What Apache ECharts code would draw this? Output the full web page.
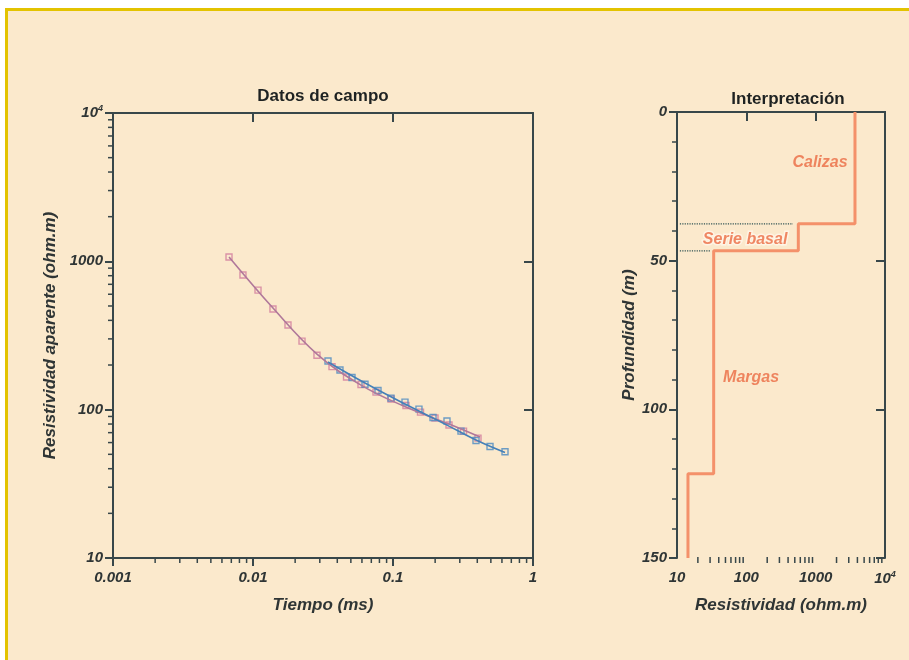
<!DOCTYPE html>
<html><head><meta charset="utf-8">
<script src="https://cdn.jsdelivr.net/npm/echarts@6/dist/echarts.min.js"></script>
<style>
html,body{margin:0;padding:0;background:#fff;width:909px;height:660px;overflow:hidden;}
#panel{position:absolute;left:5px;top:8px;width:920px;height:670px;background:#FBE9CC;border-top:3px solid #E3C300;border-left:3px solid #E3C300;}
#chart{position:absolute;left:0;top:0;width:909px;height:660px;}
</style></head><body>
<div id="panel"></div><div id="chart"></div>
<script>
// ---- Datos de campo ----
const pinkTime = [0.00674,0.00848,0.01086,0.01389,0.01778,0.02239,0.02864,0.03667,0.04655,0.05907,0.07561,0.09676,0.1238,0.1572,0.1995,0.2512,0.3189,0.4047];
const pinkRes  = [1069,808,640,477,372,290,233,195,166,147.7,131.4,117.9,106.6,96.3,87.8,78.8,71.7,64.3];
const blueTime = [0.03433,0.04181,0.05095,0.0631,0.07814,0.09676,0.1218,0.1533,0.1931,0.2430,0.3059,0.3916,0.4931,0.631];
const blueRes  = [212.7,184.9,164.6,148.2,134.5,119.7,112.5,100.9,88.5,83.8,71.7,61.9,56.4,52.0];
const pinkFitTime = [0.00674,0.01389,0.02864,0.05907,0.1238,0.2512,0.4182];
const pinkFitRes  = [1069,484,237,146.5,104.1,80.0,65.4];
const blueFitTime = [0.03433,0.0631,0.1218,0.2430,0.3916,0.631];
const blueFitRes  = [209.4,151.1,109.1,78.7,62.4,51.4];
const timeTickValues = [0.001,0.01,0.1,1];
const timeTickLabels = ['0.001','0.01','0.1','1'];
const resTickValues = [10,100,1000,10000];
const resTickLabels = ['10','100','1000','10{sup|4}'];

// ---- Interpretación ----
const layerNames = ['Calizas','Serie basal','Margas'];
const layerRes = [3690,562,33.8,14.4];
const layerTop = [0,37.6,46.7,121.7];
const maxDepth = 150;
const labelRes = [1156,96,117];
const labelDepth = [17.1,43,89.4];
const contactDepth = [37.6,46.7];
const contactFromRes = [11,11];
const contactToRes = [471,30];
const depthTicks = [0,50,100,150];

const FONT = '"Liberation Sans", Arial, sans-serif';
const AX = '#38474a';
const TXT = '#2f3535';
const ORANGE = '#F4916A';
const LABELC = '#EB6A42';

function pairs(a,b){return a.map((v,i)=>[v,b[i]]);}
function lookupLabel(vals,labels){
  return v=>{let best=0,bd=1e9;vals.forEach((t,i)=>{const d=Math.abs(Math.log10(v)-Math.log10(t));if(d<bd){bd=d;best=i;}});return labels[best];};
}
function minorLog(lo,hi){const out=[];for(let d=lo;d<hi*0.99;d*=10){for(let k=2;k<=9;k++)out.push(d*k);}return out;}

// step profile
const stepData=[];
layerRes.forEach((r,i)=>{
  const top=layerTop[i], bot=(i+1<layerTop.length)?layerTop[i+1]:maxDepth;
  stepData.push([r,top]); stepData.push([r,bot]);
});

const labelStyle = {fontFamily:FONT,fontSize:15,fontWeight:'bold',fontStyle:'italic',color:TXT};
const nameStyle = {fontFamily:FONT,fontSize:17,fontWeight:'bold',fontStyle:'italic',color:TXT};
const supRich = {sup:{fontFamily:FONT,fontSize:9,fontWeight:'bold',fontStyle:'italic',color:TXT,verticalAlign:'top',padding:[0,0,8,0]}};
const axLine = {show:true,lineStyle:{color:AX,width:2}};

function minorX(xi,yi,vals,yBase){
  return {type:'custom',xAxisIndex:xi,yAxisIndex:yi,silent:true,clip:false,z:5,
    data:vals.map(v=>[v,yBase]),
    renderItem:(p,api)=>{const c=api.coord([api.value(0),api.value(1)]);
      return {type:'line',shape:{x1:c[0],y1:c[1]-1,x2:c[0],y2:c[1]+5},style:{stroke:AX,lineWidth:1.5}};}};
}
function minorY(xi,yi,vals,xBase){
  return {type:'custom',xAxisIndex:xi,yAxisIndex:yi,silent:true,clip:false,z:5,
    data:vals.map(v=>[xBase,v]),
    renderItem:(p,api)=>{const c=api.coord([api.value(0),api.value(1)]);
      return {type:'line',shape:{x1:c[0]+1,y1:c[1],x2:c[0]-5,y2:c[1]},style:{stroke:AX,lineWidth:1.5}};}};
}

const chart = echarts.init(document.getElementById('chart'),null,{renderer:'canvas'});
chart.setOption({
  animation:false,
  backgroundColor:'transparent',
  title:[
    {text:'Datos de campo',left:318,top:83,textAlign:'center',textStyle:{fontFamily:FONT,fontSize:17,fontWeight:'bold',color:'#1e2222'}},
    {text:'Interpretación',left:783,top:86,textAlign:'center',textStyle:{fontFamily:FONT,fontSize:17,fontWeight:'bold',color:'#1e2222'}}
  ],
  grid:[
    {left:113,top:113,width:420,height:445},
    {left:677,top:112,width:208,height:446}
  ],
  xAxis:[
    {type:'log',gridIndex:0,position:'bottom',min:0.001,max:1,logBase:10,
     axisLine:axLine,axisTick:{show:true,length:8,lineStyle:{color:AX,width:2}},splitLine:{show:false},
     axisLabel:Object.assign({margin:12,formatter:lookupLabel(timeTickValues,timeTickLabels)},labelStyle),
     name:'Tiempo (ms)',nameLocation:'middle',nameGap:39,nameTextStyle:nameStyle},
    {type:'log',gridIndex:0,position:'top',min:0.001,max:1,logBase:10,
     axisLine:axLine,axisTick:{show:true,inside:true,length:9,lineStyle:{color:AX,width:2}},axisLabel:{show:false},splitLine:{show:false}},
    {type:'log',gridIndex:1,position:'bottom',min:10,max:10000,logBase:10,
     axisLine:axLine,axisTick:{show:true,length:8,lineStyle:{color:AX,width:2}},splitLine:{show:false},
     axisLabel:Object.assign({margin:12,formatter:lookupLabel(resTickValues,resTickLabels),rich:supRich},labelStyle),
     name:'Resistividad (ohm.m)',nameLocation:'middle',nameGap:39,nameTextStyle:nameStyle},
    {type:'log',gridIndex:1,position:'top',min:10,max:10000,logBase:10,
     axisLine:axLine,axisTick:{show:true,inside:true,length:9,lineStyle:{color:AX,width:2}},axisLabel:{show:false},splitLine:{show:false}}
  ],
  yAxis:[
    {type:'log',gridIndex:0,position:'left',min:10,max:10000,logBase:10,
     axisLine:axLine,axisTick:{show:true,length:8,lineStyle:{color:AX,width:2}},splitLine:{show:false},
     axisLabel:Object.assign({margin:10,formatter:lookupLabel(resTickValues,resTickLabels),rich:supRich},labelStyle),
     name:'Resistividad aparente (ohm.m)',nameLocation:'middle',nameGap:54,nameRotate:90,nameTextStyle:nameStyle},
    {type:'log',gridIndex:0,position:'right',min:10,max:10000,logBase:10,
     axisLine:axLine,axisTick:{show:true,inside:true,length:9,lineStyle:{color:AX,width:2}},axisLabel:{show:false},splitLine:{show:false}},
    {type:'value',gridIndex:1,position:'left',min:0,max:maxDepth,interval:50,inverse:true,
     axisLine:axLine,axisTick:{show:true,length:8,lineStyle:{color:AX,width:2}},
     minorTick:{show:true,splitNumber:5,length:5,lineStyle:{color:AX,width:1.5}},splitLine:{show:false},
     axisLabel:Object.assign({margin:10},labelStyle),
     name:'Profundidad (m)',nameLocation:'middle',nameGap:37,nameRotate:90,nameTextStyle:nameStyle},
    {type:'value',gridIndex:1,position:'right',min:0,max:maxDepth,interval:50,inverse:true,
     axisLine:axLine,axisTick:{show:true,inside:true,length:9,lineStyle:{color:AX,width:2}},axisLabel:{show:false},splitLine:{show:false}}
  ],
  series:[
    minorX(0,0,minorLog(0.001,1),10),
    minorY(0,0,minorLog(10,10000),0.001),
    minorX(2,2,minorLog(10,10000),maxDepth),
    {type:'line',xAxisIndex:0,yAxisIndex:0,data:pairs(pinkFitTime,pinkFitRes),smooth:0.4,showSymbol:false,
     lineStyle:{color:'#B0789A',width:1.6}},
    {type:'line',xAxisIndex:0,yAxisIndex:0,data:pairs(blueFitTime,blueFitRes),smooth:0.4,showSymbol:false,
     lineStyle:{color:'#4580B8',width:1.6}},
    {type:'scatter',xAxisIndex:0,yAxisIndex:0,data:pairs(pinkTime,pinkRes),symbol:'rect',symbolSize:6,
     itemStyle:{color:'rgba(0,0,0,0)',borderColor:'#D27C9C',borderWidth:1.4}},
    {type:'scatter',xAxisIndex:0,yAxisIndex:0,data:pairs(blueTime,blueRes),symbol:'rect',symbolSize:6,
     itemStyle:{color:'rgba(0,0,0,0)',borderColor:'#4A88C0',borderWidth:1.4}},
    {type:'line',xAxisIndex:2,yAxisIndex:2,data:stepData,showSymbol:false,
     lineStyle:{color:ORANGE,width:3}},
    ...contactDepth.map((d,i)=>({type:'line',xAxisIndex:2,yAxisIndex:2,showSymbol:false,
     data:[[contactFromRes[i],d],[contactToRes[i],d]],lineStyle:{color:'#2E5252',width:1.2,type:'dotted'}})),
    {type:'scatter',xAxisIndex:2,yAxisIndex:2,symbolSize:0,
     data:layerNames.map((n,i)=>({value:[labelRes[i],labelDepth[i]],name:n,
       label:i===1?{textBorderColor:'#FFF6EA',textBorderWidth:3}:{}})),
     label:{show:true,position:'inside',formatter:p=>p.name,fontFamily:FONT,fontSize:16,fontWeight:'bold',fontStyle:'italic',color:LABELC}}
  ]
});
</script>
</body></html>
